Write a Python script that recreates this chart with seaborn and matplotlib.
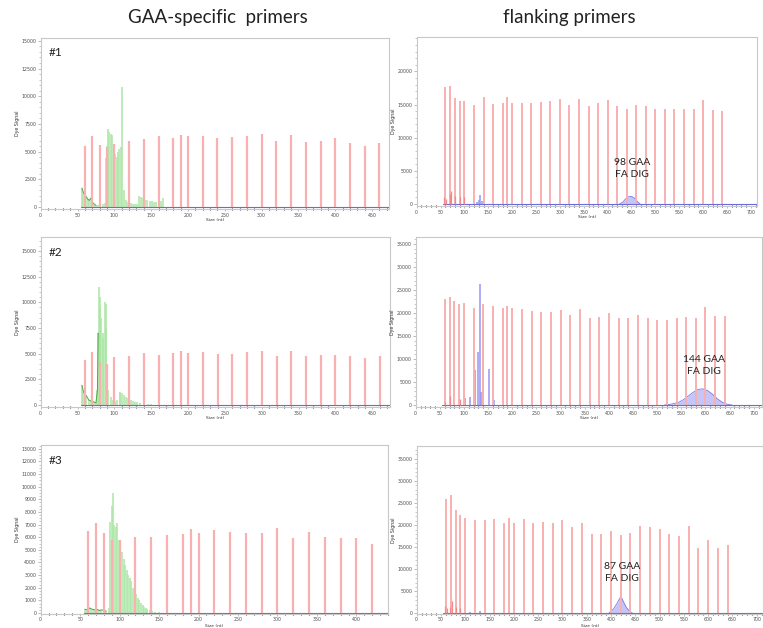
import matplotlib
matplotlib.use('Agg')
from matplotlib import pyplot as plt
from matplotlib.ticker import MultipleLocator, FixedLocator
import seaborn as sns

# size standard (red) peaks
std_left = [60, 70, 80, 90, 100, 120, 140, 160, 180, 190, 200, 220, 240, 260,
            280, 300, 320, 340, 360, 380, 400, 420, 440, 460]
std_right = [60, 70, 80, 90, 100, 120, 140, 160, 180, 190, 200, 220, 240, 260,
             280, 300, 320, 340, 360, 380, 400, 420, 440, 460, 480, 500, 520,
             540, 560, 580, 600, 620, 640]

red_l1 = [5500, 6400, 5600, 5400, 5700, 6000, 6100, 6400, 6200, 6500, 6400, 6400,
          6200, 6300, 6400, 6600, 6000, 6500, 5900, 6000, 6200, 5800, 5500, 5800]
red_l2 = [4400, 5200, 4200, 4000, 4700, 4800, 5100, 4900, 5100, 5300, 5100, 5200,
          5000, 5000, 5200, 5300, 4800, 5300, 4800, 4900, 4900, 4800, 4600, 4800]
red_l3 = [6500, 7150, 6300, 5800, 5750, 6050, 6000, 6200, 6250, 6650, 6300, 6600,
          6400, 6350, 6300, 6700, 5900, 6450, 6050, 5950, 5950, 5450]

red_r1 = [17600, 17800, 16000, 15500, 15600, 15000, 16200, 15100, 15200, 16100, 15200,
          15300, 15200, 15400, 15600, 15900, 15000, 15900, 14800, 15200, 15700, 14800,
          14400, 14900, 14800, 14400, 14400, 14300, 14400, 14300, 15700, 14200, 14100]
red_r2 = [23000, 23500, 22500, 22000, 22200, 21000, 22000, 21500, 21000, 21500, 21000,
          20800, 20500, 20300, 20300, 20700, 19500, 20800, 19000, 19200, 20000, 19000,
          18800, 19600, 18800, 18400, 18500, 18800, 19200, 18900, 21300, 19400, 19300]
red_r3 = [25900, 26900, 23500, 22200, 21700, 21150, 21150, 21300, 20550, 21700, 20550,
          21300, 20550, 20700, 20550, 21150, 19650, 20550, 17900, 18100, 18650, 17700,
          18300, 19800, 19650, 19200, 17900, 17550, 19800, 14900, 16570, 14900, 15450]

# small red noise near the start of the flanking runs
noise_r1_x = [58, 61, 70, 72, 80, 90, 100]
noise_r1_y = [1000, 800, 1500, 2000, 1200, 1100, 1000]
noise_r2_x = [60, 72, 92]
noise_r2_y = [600, 1900, 1400]
noise_r3_x = [58, 62, 68, 72, 80, 90]
noise_r3_y = [1800, 1200, 1500, 2800, 1500, 1200]

# GAA-specific (green) products
g1_x = [56, 58, 60, 62, 64, 66, 68, 70, 72, 75, 78, 81, 84, 87, 88, 90, 91, 93, 95, 97,
        99, 101, 103, 105, 107, 109, 111, 113, 116, 119, 122, 125, 128, 131, 134, 136,
        139, 142, 145, 148, 151, 154, 157, 160, 163, 166]
g1_y = [1700, 1300, 1100, 900, 700, 600, 800, 450, 300, 150, 200, 250, 300, 350, 4400,
        5500, 7000, 6800, 6600, 6500, 5300, 4800, 4500, 5000, 5200, 5400, 10800, 1500,
        600, 450, 350, 300, 300, 250, 1000, 900, 800, 650, 600, 550, 500, 450, 450, 400,
        500, 800]
g2_x = [56, 58, 60, 62, 65, 68, 72, 75, 77, 78, 79, 80, 81, 82, 84, 85, 87, 88, 89, 90,
        92, 95, 98, 101, 104, 107, 108, 110, 113, 116, 119, 122, 125, 128, 131, 135, 140,
        145, 150]
g2_y = [1900, 1300, 1000, 900, 500, 400, 300, 200, 1500, 7000, 11500, 10500, 9500, 8500,
        7000, 6500, 10000, 9800, 7500, 4000, 1500, 800, 500, 400, 500, 1300, 1200, 1200,
        1000, 800, 700, 500, 400, 300, 250, 200, 150, 100, 60]
g3_x = [56, 59, 62, 65, 68, 71, 74, 77, 80, 83, 86, 88, 90, 91, 93, 95, 97, 99, 101, 103,
        105, 107, 109, 111, 113, 115, 117, 119, 121, 123, 125, 127, 129, 131, 133, 135,
        138, 141, 145, 150]
g3_y = [300, 250, 400, 300, 250, 300, 200, 250, 200, 150, 400, 7200, 8500, 9500, 7000,
        6800, 7100, 5800, 5600, 4800, 4300, 3800, 3400, 3000, 2800, 2500, 2000, 1800, 1500,
        1200, 1000, 800, 650, 500, 400, 300, 200, 150, 100, 60]

# flanking (blue) products
b1_spk_x = [126, 130, 133, 136]
b1_spk_y = [300, 600, 1300, 500]
b1_x = [425, 432, 438, 444, 450, 456, 462, 468]
b1_y = [0, 300, 800, 1100, 1150, 900, 400, 0]
b2_spk_x = [103, 112, 122, 129, 133, 136, 140, 152, 163]
b2_spk_y = [1500, 1700, 7600, 11500, 26200, 2900, 18500, 7800, 1000]
b2_x = [515, 530, 545, 555, 565, 575, 585, 595, 605, 615, 625, 635, 645, 655]
b2_y = [0, 200, 600, 1200, 2000, 2800, 3400, 3500, 3100, 2300, 1300, 600, 150, 0]
b3_spk_x = [110, 130]
b3_spk_y = [300, 500]
b3_x = [395, 405, 412, 418, 421, 425, 432, 440, 446]
b3_y = [0, 1000, 2200, 3400, 3800, 2800, 1300, 300, 0]

col_titles = ['GAA-specific  primers', 'flanking primers']
row_labels = ['#1', '#2', '#3']
calls = ['98 GAA\nFA DIG', '144 GAA\nFA DIG', '87 GAA\nFA DIG']
call_pos = [(452, 5300), (597, 8600), (422, 9200)]

RED = '#f8b0b0'
GREEN = '#ace6a6'
DKGREEN = '#4aa84a'
BLUE = '#9696f2'

sns.set_style('white')
plt.rcParams['font.family'] = ['DejaVu Sans']

W, H = 763, 628
fig = plt.figure(figsize=(W / 100, H / 100), dpi=100)


def add_axes(l, t, r, b):
    return fig.add_axes([l / W, 1 - b / H, (r - l) / W, (b - t) / H])


def style(ax, xlim, ylim, yticks, yminor, px_box, xlab_off=9, xpad=1.2):
    ax.set_xlim(*xlim)
    ax.set_ylim(*ylim)
    ax.xaxis.set_major_locator(MultipleLocator(50))
    ax.xaxis.set_minor_locator(MultipleLocator(10))
    ax.yaxis.set_major_locator(FixedLocator(yticks))
    ax.yaxis.set_minor_locator(MultipleLocator(yminor))
    for s in ax.spines.values():
        s.set_color('#c8c8c8')
        s.set_linewidth(0.8)
    ax.tick_params(axis='both', which='major', labelsize=3.4, length=2, width=0.5,
                   colors='#a0a0a0', labelcolor='#505050', pad=1.2)
    ax.tick_params(axis='x', which='major', pad=xpad, length=1.5)
    ax.tick_params(axis='y', which='minor', length=1.2, width=0.4, colors='#a0a0a0')
    ax.tick_params(axis='x', which='minor', length=2, width=0.8, colors='#3a3a5a',
                   direction='inout')
    ax.tick_params(left=True, bottom=True, which='both')
    l, t, r, b = px_box
    ax.set_ylabel('Dye Signal', fontsize=3.4, color='#333333')
    ax.set_xlabel('Size (nt)', fontsize=3.2, color='#333333')
    ax.yaxis.set_label_coords(-21 / (r - l), 0.5)
    ax.xaxis.set_label_coords(0.5, -xlab_off / (b - t))


def baseline(ax, start, end):
    sns.lineplot(x=[start, end], y=[0, 0], ax=ax, color='#6a6ad8', lw=0.8)


# left column (GAA-specific primers)
left_boxes = [(40.7, 38, 389, 209), (40.7, 237, 390, 407), (40.7, 445, 388, 614)]
left_lims = [((0, 473), (-180, 15260)), ((0, 474), (-195, 16350)), ((0, 440), (-80, 13300))]
left_ticks = [(list(range(0, 15001, 2500)), 500), (list(range(0, 15001, 2500)), 500),
              (list(range(0, 13001, 1000)), 250)]
left_red = [(std_left, red_l1), (std_left, red_l2), (std_left[:len(red_l3)], red_l3)]
left_green = [(g1_x, g1_y), (g2_x, g2_y), (g3_x, g3_y)]
xlab_offsets = [9, 9, 10.2]
xpads = [1.2, 1.2, 0.5]

for i in range(3):
    box = left_boxes[i]
    ax = add_axes(*box)
    gx, gy = left_green[i]
    rx, ry = left_red[i]
    ax.vlines(gx, 0, gy, colors=GREEN, linewidth=1.1, zorder=2)
    sns.lineplot(x=gx[:10], y=gy[:10], ax=ax, color=DKGREEN, lw=0.7, zorder=3)
    ax.vlines(rx, 0, ry, colors=RED, linewidth=1.6, zorder=3)
    baseline(ax, 55, left_lims[i][0][1])
    style(ax, left_lims[i][0], left_lims[i][1], left_ticks[i][0], left_ticks[i][1], box,
          xlab_offsets[i], xpads[i])
    l, t, r, b = box
    ax.text(8 / (r - l), 1 - 15 / (b - t), row_labels[i], transform=ax.transAxes,
            fontsize=8.5, family='Lato', va='center', ha='left', color='#222222')

# right column (flanking primers)
right_boxes = [(416.7, 37, 757, 206), (415.7, 237, 762, 407), (416.7, 446, 763, 614)]
right_lims = [((0, 713), (-303, 25200)), ((0, 717), (-434, 36500)), ((0, 713), (-115, 37900))]
right_ticks = [list(range(0, 20001, 5000)), list(range(0, 35001, 5000)),
               list(range(0, 35001, 5000))]
right_red = [red_r1, red_r2, red_r3]
right_noise = [(noise_r1_x, noise_r1_y), (noise_r2_x, noise_r2_y), (noise_r3_x, noise_r3_y)]
right_spk = [(b1_spk_x, b1_spk_y), (b2_spk_x, b2_spk_y), (b3_spk_x, b3_spk_y)]
right_hump = [(b1_x, b1_y), (b2_x, b2_y), (b3_x, b3_y)]

for i in range(3):
    box = right_boxes[i]
    ax = add_axes(*box)
    hx, hy = right_hump[i]
    ax.fill_between(hx, hy, color=BLUE, alpha=0.55, lw=0, zorder=2)
    sns.lineplot(x=hx, y=hy, ax=ax, color='#7878e8', lw=0.6, zorder=2)
    sx, sy = right_spk[i]
    ax.vlines(sx, 0, sy, colors=BLUE, linewidth=1.1, zorder=2)
    ax.vlines(std_right, 0, right_red[i], colors=RED, linewidth=1.4, zorder=3)
    nx, ny = right_noise[i]
    ax.vlines(nx, 0, ny, colors='#f28888', linewidth=0.9, zorder=3)
    baseline(ax, 55, right_lims[i][0][1])
    style(ax, right_lims[i][0], right_lims[i][1], right_ticks[i], 1000, box,
          xlab_offsets[i], xpads[i])
    cx, cy = call_pos[i]
    ax.text(cx, cy, calls[i], fontsize=7.5, family='Lato', ha='center', va='center',
            linespacing=1.45, color='#222222', zorder=5)

fig.text(218 / W, 1 - 18 / H, col_titles[0], fontsize=13.5, family='Lato',
         ha='center', va='center', color='#222222')
fig.text(569 / W, 1 - 18 / H, col_titles[1], fontsize=13.5, family='Lato',
         ha='center', va='center', color='#222222')

fig.savefig('out.png', dpi=100, facecolor='white')
